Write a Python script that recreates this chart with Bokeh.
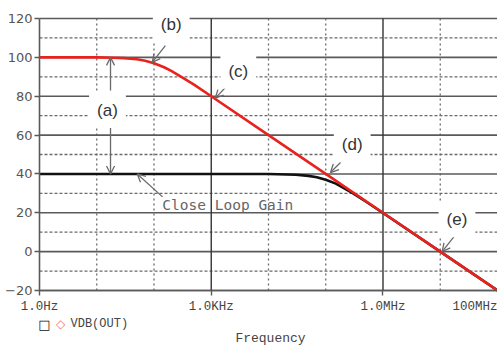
from bokeh.plotting import figure
from bokeh.models import FixedTicker, Label, Arrow, OpenHead
from bokeh.embed import file_html
from bokeh.resources import INLINE

# ---- data ----
freq_open = [1, 10, 20, 30, 50, 70, 100, 150, 200, 300, 500, 1e3, 1e4, 1e5, 1e6, 1e7, 1e8]
db_open = [100, 100, 99.8, 99.6, 99.0, 98.3, 97.0, 94.9, 93.0, 89.9, 86.0, 80.0, 60, 40, 20, 0, -20]

freq_closed = [1, 10, 100, 1e3, 1e4, 3e4, 5e4, 7e4, 1e5, 1.5e5, 2e5, 3e5, 5e5, 1e6, 1e7, 1e8]
db_closed = [40, 40, 40, 40, 40, 39.6, 39.0, 38.3, 37.0, 35.0, 33.0, 30.0, 25.8, 19.9, 0, -20]

y_min, y_max = -20, 120
y_ticks = [-20, 0, 20, 40, 60, 80, 100, 120]
y_minor = [-10, 10, 30, 50, 70, 90, 110]
x_min, x_max = 1, 1e8
x_ticks = [1, 1000, 1000000]
x_tick_labels = ["1.0Hz", "1.0KHz", "1.0MHz"]
x_last_tick = 100000000
x_last_label = "100MHz"
x_major_grid = [1e3, 1e6]
x_minor_grid = [10, 100, 1e4, 1e5, 1e7]

callout_text = ["(a)", "(b)", "(c)", "(d)", "(e)"]
callout_x = [15.4, 200, 2970, 2.9e5, 1.96e7]
callout_y = [72.8, 116.9, 92.8, 55.4, 16.4]

note_text = "Close Loop Gain"
note_x = 140
note_y = 24.1

arrow_x0 = [17.4, 17.4, 158, 2340, 1.81e5, 1.74e7, 141]
arrow_y0 = [83, 63.6, 106, 88.2, 45.9, 7.7, 28.2]
arrow_x1 = [17.4, 17.4, 93, 1175, 1.21e5, 1.08e7, 51]
arrow_y1 = [100, 40, 97.4, 79, 40.7, 0, 40]

legend_label = "VDB(OUT)"
x_title = "Frequency"

# ---- figure: the frame fills the canvas (axes use fixed locations) so no text is clipped ----
view_x = (0.2084, 1e8)      # room left of 1 Hz for the dB tick labels
view_y = (-49.34, 129.27)   # room under -20 dB for tick labels, legend and title
p = figure(width=497, height=347, x_axis_type="log", x_range=view_x, y_range=view_y,
           output_backend="svg", toolbar_location=None,
           min_border_left=0, min_border_right=0, min_border_top=0, min_border_bottom=0)
p.outline_line_color = None
p.background_fill_color = "white"
p.xgrid.visible = False
p.ygrid.visible = False

grid_col = "#5a5a5a"
dot_col = "#6a6a6a"

# grid lines limited to the plotted area
n = len(y_minor)
p.segment(x0=[x_min] * n, y0=y_minor, x1=[x_max] * n, y1=y_minor,
          line_color=dot_col, line_width=1.3, line_dash="3 2")
n = len(x_minor_grid)
p.segment(x0=x_minor_grid, y0=[y_min] * n, x1=x_minor_grid, y1=[y_max] * n,
          line_color=dot_col, line_width=1.3, line_dash="2 3")
n = len(y_ticks)
p.segment(x0=[x_min] * n, y0=y_ticks, x1=[x_max] * n, y1=y_ticks,
          line_color=grid_col, line_width=1.6)
n = len(x_major_grid)
p.segment(x0=x_major_grid, y0=[y_min] * n, x1=x_major_grid, y1=[y_max] * n,
          line_color="#333333", line_width=1.4)

# axes
p.yaxis.fixed_location = x_min
p.yaxis.ticker = FixedTicker(ticks=y_ticks)
p.yaxis.bounds = (y_min, y_max)
p.yaxis.minor_tick_line_color = None
p.yaxis.major_tick_out = 5
p.yaxis.major_tick_in = 0
p.yaxis.major_label_standoff = 2
p.yaxis.major_label_text_font = "DejaVu Sans"
p.yaxis.major_label_text_font_size = "13px"
p.yaxis.major_label_text_color = "#555555"
p.yaxis.axis_line_color = grid_col
p.yaxis.axis_line_width = 1.6
p.yaxis.major_tick_line_color = grid_col
p.yaxis.major_tick_line_width = 1.4

p.xaxis.fixed_location = y_min
p.xaxis.ticker = FixedTicker(ticks=x_ticks)
p.xaxis.bounds = (x_min, x_max)
p.xaxis.major_label_overrides = dict(zip(x_ticks, x_tick_labels))
p.xaxis.minor_tick_line_color = None
p.xaxis.major_tick_out = 5
p.xaxis.major_tick_in = 0
p.xaxis.major_label_standoff = 5
p.xaxis.major_label_text_font = "Liberation Mono"
p.xaxis.major_label_text_font_size = "12.5px"
p.xaxis.major_label_text_color = "#444444"
p.xaxis.axis_line_color = grid_col
p.xaxis.axis_line_width = 1.6
p.xaxis.major_tick_line_color = grid_col
p.xaxis.major_tick_line_width = 1.4

# curves
p.line(freq_closed, db_closed, line_color="#111111", line_width=2.6)
p.line(freq_open, db_open, line_color="#e8231d", line_width=2.6)

# arrows
for x0, y0, x1, y1 in zip(arrow_x0, arrow_y0, arrow_x1, arrow_y1):
    p.add_layout(Arrow(end=OpenHead(size=8, line_color="#6a6a6a", line_width=1.3),
                       x_start=x0, y_start=y0, x_end=x1, y_end=y1,
                       line_color="#6a6a6a", line_width=1.3))

# callout labels
for t, x, y in zip(callout_text, callout_x, callout_y):
    p.add_layout(Label(x=x, y=y, text=t, text_align="center", text_baseline="middle",
                       text_font="Liberation Sans", text_font_size="17px", text_color="#333333",
                       background_fill_color="white", padding=8))

p.add_layout(Label(x=note_x, y=note_y, text=note_text, text_align="left", text_baseline="middle",
                   text_font="DejaVu Sans Mono", text_font_size="14.5px", text_color="#666666"))

# last x tick label (right-aligned at the edge)
p.add_layout(Label(x=x_last_tick, y=-28.24, text=x_last_label, text_align="right",
                   text_baseline="middle", text_font="Liberation Mono",
                   text_font_size="12.5px", text_color="#444444"))

# legend row
p.add_layout(Label(x=1.223, y=-37.5, text="\u25a1", text_align="center", text_baseline="middle",
                   text_font="DejaVu Sans", text_font_size="13px", text_color="#111111"))
p.add_layout(Label(x=2.33, y=-37.5, text="\u25c7", text_align="center", text_baseline="middle",
                   text_font="DejaVu Sans", text_font_size="12px", text_color="#f07a7a"))
p.add_layout(Label(x=3.48, y=-37.5, text=legend_label, text_align="left", text_baseline="middle",
                   text_font="Liberation Mono", text_font_size="12px", text_color="#444444"))

# x axis title
p.add_layout(Label(x=10840, y=-44.6, text=x_title, text_align="center", text_baseline="middle",
                   text_font="Liberation Mono", text_font_size="13px", text_color="#444444"))

open("out.html", "w").write(file_html(p, INLINE))
